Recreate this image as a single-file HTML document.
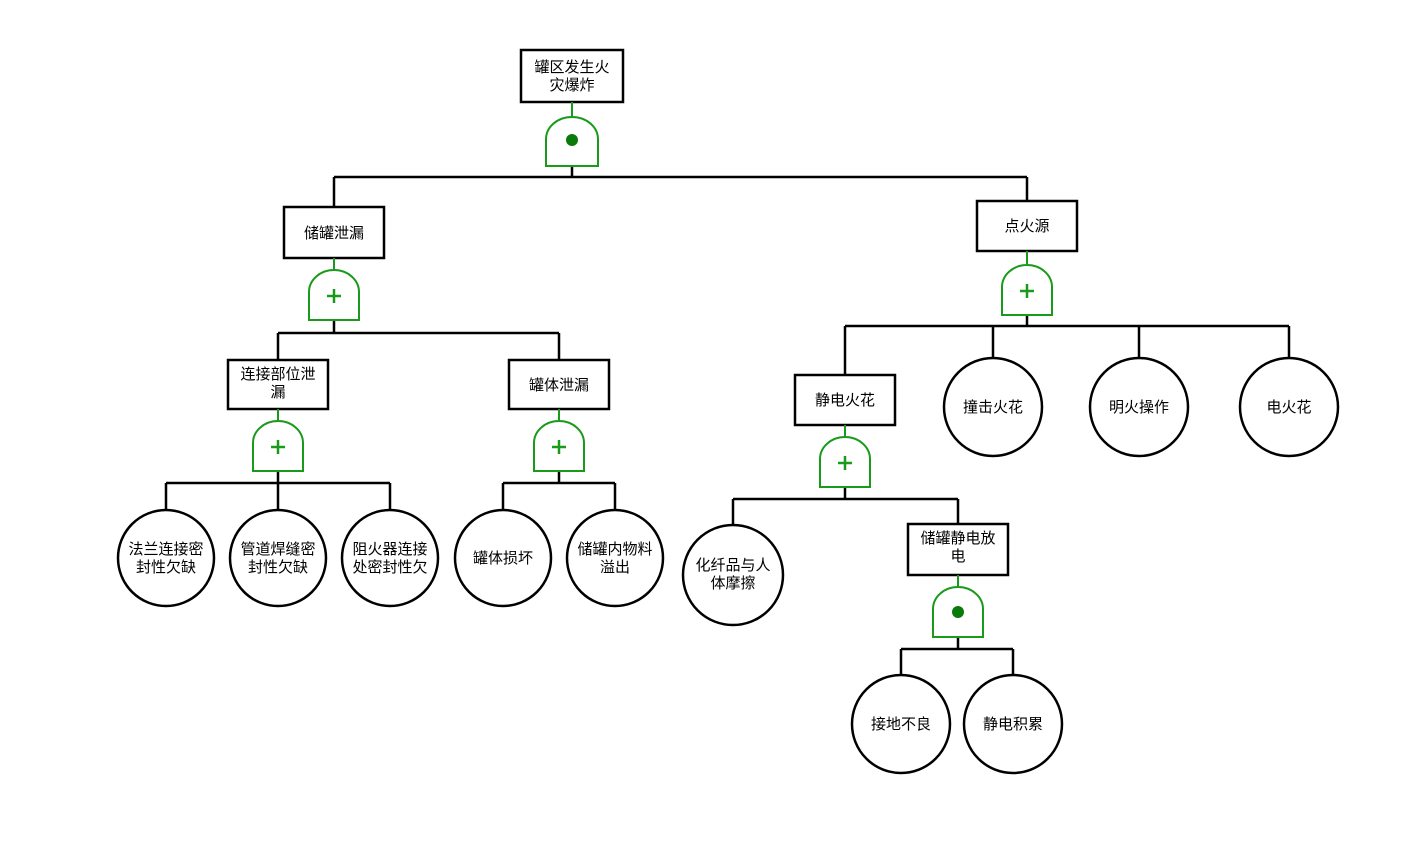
<!DOCTYPE html>
<html><head><meta charset="utf-8"><style>
html,body{margin:0;padding:0;background:#fff;}
svg text{font-family:"Liberation Sans","Noto Sans CJK SC",sans-serif;font-size:15px;fill:#000;text-anchor:middle;}
</style></head><body>
<svg width="1427" height="837" viewBox="0 0 1427 837" xmlns="http://www.w3.org/2000/svg">
<g fill="none" stroke="#000" stroke-width="2.5">
<path d="M572 166V177M334 177H1027M334 177V207M1027 177V201"/>
<path d="M334 320V333M278 333H559M278 333V360M559 333V360"/>
<path d="M278 471V483M166 483H390M166 483V510M278 483V510M390 483V510"/>
<path d="M559 471V483M503 483H615M503 483V510M615 483V510"/>
<path d="M1027 315V326M845 326H1289M845 326V375M993 326V358M1139 326V358M1289 326V358"/>
<path d="M845 487V499M733 499H958M733 499V525M958 499V524"/>
<path d="M958 637V649M901 649H1013M901 649V675M1013 649V675"/>
<rect x="521" y="50" width="102" height="52"/>
<rect x="284" y="207" width="100" height="51"/>
<rect x="228" y="360" width="100" height="49"/>
<rect x="509" y="360" width="100" height="49"/>
<rect x="977" y="201" width="100" height="50"/>
<rect x="795" y="375" width="100" height="50"/>
<rect x="908" y="524" width="100" height="51"/>
<circle cx="166" cy="558" r="48"/>
<circle cx="278" cy="558" r="48"/>
<circle cx="390" cy="558" r="48"/>
<circle cx="503" cy="558" r="48"/>
<circle cx="615" cy="558" r="48"/>
<circle cx="993" cy="407" r="49"/>
<circle cx="1139" cy="407" r="49"/>
<circle cx="1289" cy="407" r="49"/>
<circle cx="733" cy="575" r="50"/>
<circle cx="901" cy="724" r="49"/>
<circle cx="1013" cy="724" r="49"/>
</g>
<g fill="none" stroke="#1a9a1a" stroke-width="2">
<path d="M572 102V117M546 166V139A26 22 0 0 1 598 139V166Z"/>
<path d="M334 258V270M309 320V292A25 22 0 0 1 359 292V320Z"/>
<path d="M278 409V421M253 471V443A25 22 0 0 1 303 443V471Z"/>
<path d="M559 409V421M534 471V443A25 22 0 0 1 584 443V471Z"/>
<path d="M1027 251V265M1002 315V287A25 22 0 0 1 1052 287V315Z"/>
<path d="M845 425V437M820 487V459A25 22 0 0 1 870 459V487Z"/>
<path d="M958 575V587M933 637V609A25 22 0 0 1 983 609V637Z"/>
</g>
<g fill="#0a7a0a"><circle cx="572" cy="140" r="6"/><circle cx="958" cy="612" r="6"/></g>
<g stroke="#1a9a1a" stroke-width="2.5">
<path d="M327 296H341M334 289V303"/>
<path d="M271 447H285M278 440V454"/>
<path d="M552 447H566M559 440V454"/>
<path d="M1020 291H1034M1027 284V298"/>
<path d="M838 463H852M845 456V470"/>
</g>
<text x="572" y="72">罐区发生火</text><text x="572" y="90">灾爆炸</text>
<text x="334" y="238">储罐泄漏</text>
<text x="278" y="379">连接部位泄</text><text x="278" y="397">漏</text>
<text x="559" y="390">罐体泄漏</text>
<text x="1027" y="231">点火源</text>
<text x="845" y="405">静电火花</text>
<text x="958" y="543">储罐静电放</text><text x="958" y="561">电</text>
<text x="166" y="554">法兰连接密</text><text x="166" y="572">封性欠缺</text>
<text x="278" y="554">管道焊缝密</text><text x="278" y="572">封性欠缺</text>
<text x="390" y="554">阻火器连接</text><text x="390" y="572">处密封性欠</text>
<text x="503" y="563">罐体损坏</text>
<text x="615" y="554">储罐内物料</text><text x="615" y="572">溢出</text>
<text x="993" y="412">撞击火花</text>
<text x="1139" y="412">明火操作</text>
<text x="1289" y="412">电火花</text>
<text x="733" y="570">化纤品与人</text><text x="733" y="588">体摩擦</text>
<text x="901" y="729">接地不良</text>
<text x="1013" y="729">静电积累</text>
</svg>
</body></html>
